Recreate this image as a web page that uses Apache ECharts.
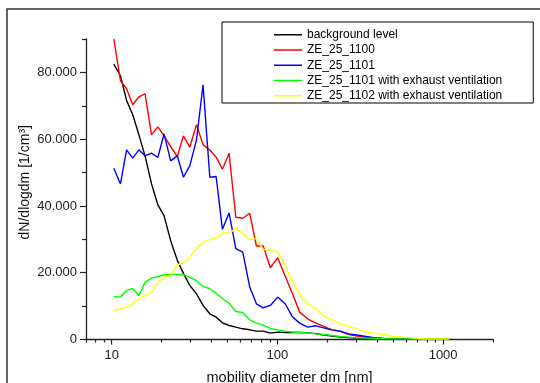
<!DOCTYPE html>
<html>
<head>
<meta charset="utf-8">
<script src="https://cdn.jsdelivr.net/npm/echarts@6.0.0/dist/echarts.min.js"></script>
<style>
  html, body { margin: 0; padding: 0; background: #fff; }
  #chart { width: 540px; height: 383px; }
</style>
</head>
<body>
<div id="chart"></div>
<script>
// mobility diameter bins [nm]
const diameters = [10.3, 11.3, 12.3, 13.4, 14.6, 15.9, 17.4, 19.0, 20.7, 22.7,
  24.9, 27.1, 29.6, 32.5, 35.6, 39.1, 42.7, 46.6, 51.1, 56.1,
  61.8, 68.1, 74.7, 82.1, 90.7, 100.4, 111.4, 122.8, 136.2, 152.2,
  170.8, 190.1, 213.8, 238.9, 268.9, 302.5, 342.7, 388.4, 436.9, 498.4,
  568.6, 653.4, 750.5, 862, 990, 1091];

// dN/dlogdm [1/cm3]
const background = [82500, 79000, 71600, 67300, 61300, 55000, 46600, 40300, 37100, 29600,
  23700, 19800, 16200, 13700, 10200, 7700, 6700, 5000, 4200, 3700,
  3200, 2900, 2500, 2500, 1900, 2200, 2100, 2100, 2100, 2000,
  1750, 1350, 1050, 700, 550, 400, 300, 250, 200, 200,
  150, 150, 150, 150, 150, 200];
const ze1100 = [90000, 77500, 75100, 70300, 72700, 73600, 61300, 63700, 61000, 57800,
  54800, 61000, 57600, 64300, 58300, 56800, 54600, 51000, 55800, 36600,
  36300, 37800, 28000, 28000, 21500, 24500, 19000, 13900, 8200, 6200,
  4900, 3900, 2900, 2500, 1500, 1000, 700, 450, 300, 250,
  200, 200, 200, 200, 200, 200];
const ze1101 = [51300, 46600, 56800, 54300, 56800, 55000, 55800, 54500, 61600, 53500,
  55000, 48600, 52000, 59800, 76300, 48600, 48800, 33000, 37900, 27200,
  26200, 15700, 10700, 9500, 10200, 12700, 10700, 6900, 4900, 3700,
  4100, 3500, 2900, 2500, 1700, 1350, 900, 450, 300, 200,
  150, 100, 100, 100, 100, 100];
const ze1101Exh = [12900, 12700, 14700, 15300, 13200, 17100, 18400, 18800, 19400, 19500,
  19500, 19400, 18600, 17600, 15900, 15200, 13900, 12200, 10900, 8400,
  8100, 5900, 4900, 4300, 3300, 2900, 2500, 2200, 2100, 1950,
  1700, 1500, 1200, 900, 700, 500, 400, 300, 250, 200,
  200, 150, 150, 150, 150, 150];
const ze1102Exh = [8700, 9200, 9700, 10700, 12200, 13200, 14200, 17100, 18500, 19200,
  22400, 22900, 24700, 27300, 29100, 29900, 30400, 31800, 31800, 33300,
  31700, 29900, 30200, 27000, 26600, 26300, 22200, 17400, 13500, 10700,
  9200, 6900, 5900, 4700, 3900, 3200, 2250, 1900, 1500, 900,
  700, 500, 200, 200, 200, 200];

const seriesNames = ["background level", "ZE_25_1100", "ZE_25_1101",
  "ZE_25_1101 with exhaust ventilation", "ZE_25_1102 with exhaust ventilation"];
const seriesValues = [background, ze1100, ze1101, ze1101Exh, ze1102Exh];
const seriesColors = ["#000000", "#ff0000", "#0000ff", "#00ff00", "#ffff00"];

const xMajorTicks = [10, 100, 1000];
const xMinorTicks = [7, 8, 9, 20, 30, 40, 50, 60, 70, 80, 90,
  200, 300, 400, 500, 600, 700, 800, 900, 2000];
const yMajorTicks = [0, 20000, 40000, 60000, 80000];
const yMinorTicks = [10000, 30000, 50000, 70000, 90000];

const AXIS = "#222";
const FONT = "Liberation Sans, Arial, sans-serif";

const chart = echarts.init(document.getElementById("chart"), null, { renderer: "canvas" });

const xBase = {
  type: "log", logBase: 10, min: 7, max: 2000, gridIndex: 0, position: "bottom",
  splitLine: { show: false }, minorTick: { show: false },
};
const yBase = {
  type: "value", min: 0, max: 90000, gridIndex: 0, position: "left", offset: 0,
  splitLine: { show: false },
};

chart.setOption({
  animation: false,
  backgroundColor: "#fff",
  grid: { left: 86, right: 47, top: 39, bottom: 43.5, containLabel: false, outerBoundsMode: "none" },
  legend: {
    orient: "vertical",
    left: 222, top: 22,
    padding: [5.5, 31, 0, 52],
    itemGap: 0.75,
    icon: "rect",
    itemWidth: 28, itemHeight: 1.5,
    borderColor: "#000", borderWidth: 1,
    textStyle: { fontFamily: FONT, fontSize: 12, color: "#000", lineHeight: 14.5 },
    data: seriesNames,
  },
  xAxis: [
    Object.assign({}, xBase, {
      name: "mobility diameter dm [nm]",
      nameLocation: "middle", nameGap: 31, nameMoveOverlap: false,
      nameTextStyle: { fontFamily: FONT, fontSize: 14.5, color: "#111" },
      axisLine: { lineStyle: { color: AXIS, width: 1.3 } },
      axisTick: { show: true, length: 5, customValues: xMajorTicks, lineStyle: { color: AXIS, width: 1.2 } },
      axisLabel: { customValues: xMajorTicks, margin: 9, fontFamily: FONT, fontSize: 13, color: "#222",
        formatter: (v) => String(v) },
    }),
    Object.assign({}, xBase, {
      axisLine: { show: false },
      axisTick: { show: true, length: 3, customValues: xMinorTicks, lineStyle: { color: AXIS, width: 1.2 } },
      axisLabel: { show: false },
    }),
  ],
  yAxis: [
    Object.assign({}, yBase, {
      name: "dN/dlogdm [1/cm³]",
      nameLocation: "middle", nameGap: 54, nameMoveOverlap: false,
      nameTextStyle: { fontFamily: FONT, fontSize: 14, color: "#111", padding: [0, 0, 0, 14] },
      axisLine: { show: true, lineStyle: { color: AXIS, width: 1.3 } },
      axisTick: { show: true, length: 6, customValues: yMajorTicks, lineStyle: { color: AXIS, width: 1.2 } },
      axisLabel: { customValues: yMajorTicks, margin: 9, fontFamily: FONT, fontSize: 13, color: "#222",
        formatter: (v) => (v === 0 ? "0" : (v / 1000) + ".000") },
    }),
    Object.assign({}, yBase, {
      axisLine: { show: false },
      axisTick: { show: true, length: 4, customValues: yMinorTicks, lineStyle: { color: AXIS, width: 1.2 } },
      axisLabel: { show: false },
    }),
  ],
  series: seriesNames.map((name, i) => ({
    name,
    type: "line",
    xAxisIndex: 0, yAxisIndex: 0,
    data: diameters.map((d, k) => [d, seriesValues[i][k]]),
    symbol: "none",
    silent: true,
    color: seriesColors[i],
    lineStyle: { color: seriesColors[i], width: 1.4 },
  })),
  graphic: [
    {
      type: "polyline",
      shape: { points: [[7, 383], [7, 9], [540, 9]] },
      style: { stroke: "#333", lineWidth: 1.5, fill: null },
      silent: true,
    },
  ],
});
</script>
</body>
</html>
